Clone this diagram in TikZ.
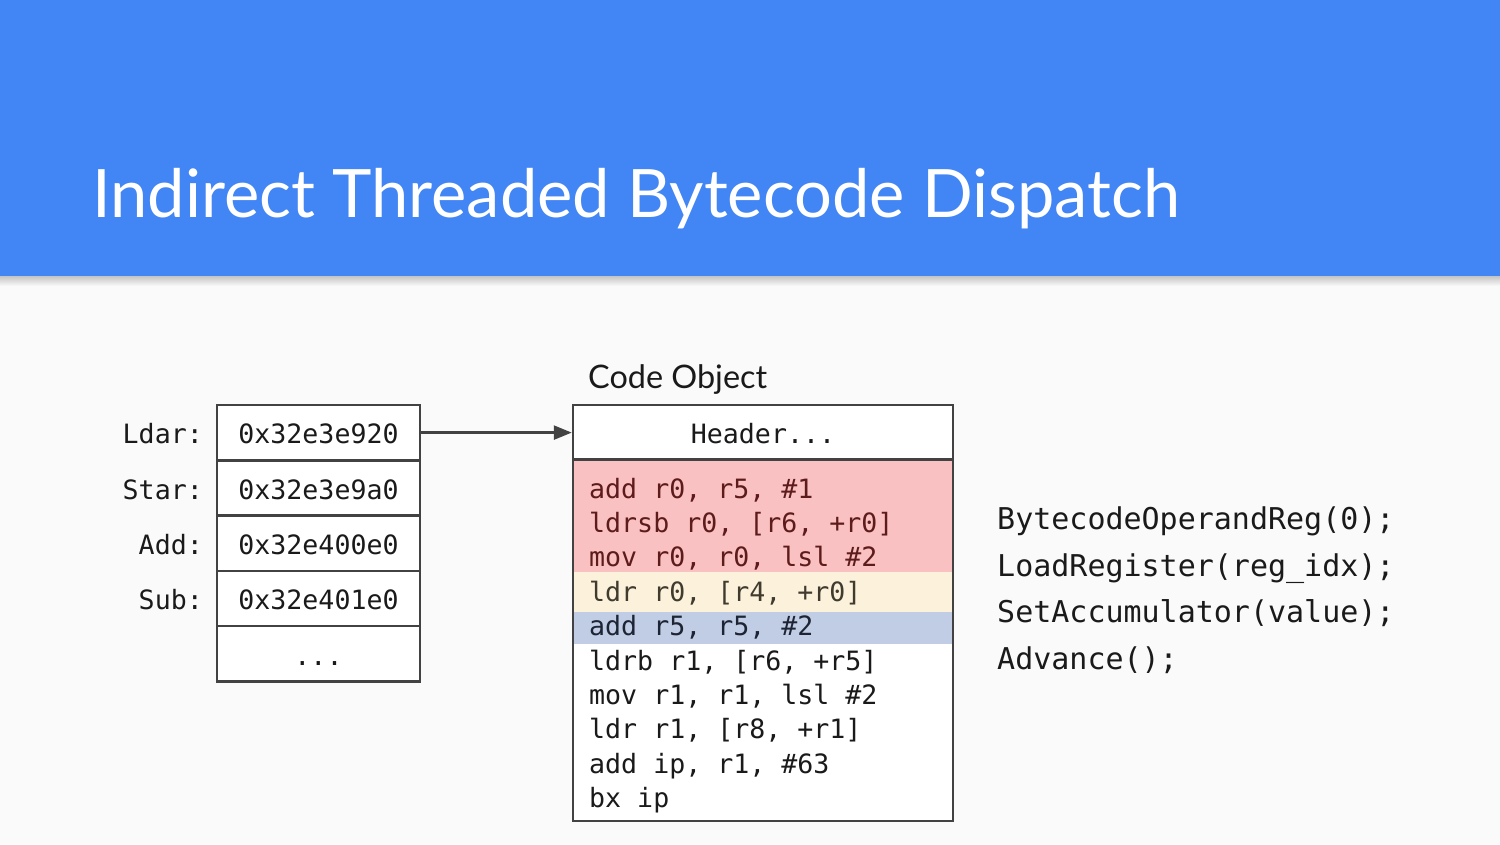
\documentclass[tikz,border=0pt]{standalone}
\usepackage{fontspec}
\setmainfont{Lato}
\newfontfamily\codefont{DejaVu Sans Mono}
\usetikzlibrary{arrows.meta}

\definecolor{bg}{HTML}{FAFAFA}
\definecolor{bar}{HTML}{4285F4}
\definecolor{shadowgray}{HTML}{C4C4C4}
\definecolor{frame}{HTML}{424242}
\definecolor{ink}{HTML}{1A1A1A}
\definecolor{pinkfill}{HTML}{F9C1C1}
\definecolor{pinktext}{HTML}{5E1B1B}
\definecolor{creamfill}{HTML}{FCF2DB}
\definecolor{creamtext}{HTML}{403A2F}
\definecolor{bluefill}{HTML}{C1CDE5}
\definecolor{bluetext}{HTML}{1D2434}

\tikzset{
  cell/.style={draw=frame, line width=2.5pt, fill=white, inner sep=0pt,
    minimum width=203pt, minimum height=55.3pt,
    text height=22.7pt, text depth=0pt, text=ink,
    font=\codefont\fontsize{26.6}{30}\selectfont},
  headcell/.style={cell, minimum width=380pt, minimum height=54.5pt, text height=22.5pt},
  band/.style={inner sep=0pt, minimum width=380pt, draw=none},
  lab/.style={anchor=base east, inner sep=0pt, text=ink,
    font=\codefont\fontsize{26.6}{30}\selectfont},
  codeline/.style={anchor=base west, inner sep=0pt, text=ink,
    font=\codefont\fontsize{26.6}{30}\selectfont},
  apiline/.style={anchor=base west, inner sep=0pt, text=ink,
    font=\codefont\fontsize{30}{34}\selectfont},
  conn/.style={draw=frame, line width=2.5pt,
    -{Triangle[length=18pt, width=14pt]}},
}

\begin{document}
\begin{tikzpicture}[x=1pt, y=-1pt]
  \useasboundingbox (0,0) rectangle (1500,844);

  % page, title bar and its drop shadow
  \fill[bg] (0,0) rectangle (1500,844);
  \shade[top color=shadowgray, bottom color=bg] (0,276) rectangle (1500,286);
  \fill[bar] (0,0) rectangle (1500,276);
  \node[anchor=base west, inner sep=0pt, text=white,
        font=\fontsize{66.8}{78}\selectfont] (title) at (92,217)
        {Indirect Threaded Bytecode Dispatch};

  % dispatch table
  \node[cell] (c1) at (318.5,432.6) {0x32e3e920};
  \node[cell] (c2) at (318.5,487.9) {0x32e3e9a0};
  \node[cell] (c3) at (318.5,543.2) {0x32e400e0};
  \node[cell] (c4) at (318.5,598.5) {0x32e401e0};
  \node[cell] (c5) at (318.5,653.8) {...};

  \node[lab] (l1) at (203,443.9) {Ldar:};
  \node[lab] (l2) at (203,499.2) {Star:};
  \node[lab] (l3) at (203,554.5) {Add:};
  \node[lab] (l4) at (203,609.8) {Sub:};

  % code object
  \node[anchor=base west, inner sep=0pt, text=ink,
        font=\fontsize{32.4}{38}\selectfont] (cotitle) at (588,388) {Code Object};

  \node[band, fill=white, minimum height=361.5pt] (body) at (763,640.25) {};
  \node[band, fill=pinkfill, minimum height=112.5pt] (pink) at (763,515.75) {};
  \node[band, fill=creamfill, minimum height=39.5pt] (cream) at (763,591.75) {};
  \node[band, fill=bluefill, minimum height=32pt] (blue) at (763,627.5) {};
  \draw[frame, line width=2.5pt] (body.north west) rectangle (body.south east);
  \node[headcell] (hdr) at (763,432.25) {Header...};

  \node[codeline, text=pinktext]  (i1)  at (589,498.0) {add r0, r5, \#1};
  \node[codeline, text=pinktext]  (i2)  at (589,532.4) {ldrsb r0, [r6, +r0]};
  \node[codeline, text=pinktext]  (i3)  at (589,566.8) {mov r0, r0, lsl \#2};
  \node[codeline, text=creamtext] (i4)  at (589,601.2) {ldr r0, [r4, +r0]};
  \node[codeline, text=bluetext]  (i5)  at (589,635.6) {add r5, r5, \#2};
  \node[codeline] (i6)  at (589,670.0) {ldrb r1, [r6, +r5]};
  \node[codeline] (i7)  at (589,704.4) {mov r1, r1, lsl \#2};
  \node[codeline] (i8)  at (589,738.8) {ldr r1, [r8, +r1]};
  \node[codeline] (i9)  at (589,773.2) {add ip, r1, \#63};
  \node[codeline] (i10) at (589,807.6) {bx ip};

  % pointer from the Ldar entry into the code object
  \draw[conn] (c1.east) -- (c1.east -| hdr.west);

  % handler source
  \node[apiline] (a1) at (997,529.5) {BytecodeOperandReg(0);};
  \node[apiline] (a2) at (997,576.0) {LoadRegister(reg\_idx);};
  \node[apiline] (a3) at (997,622.5) {SetAccumulator(value);};
  \node[apiline] (a4) at (997,669.0) {Advance();};
\end{tikzpicture}
\end{document}
